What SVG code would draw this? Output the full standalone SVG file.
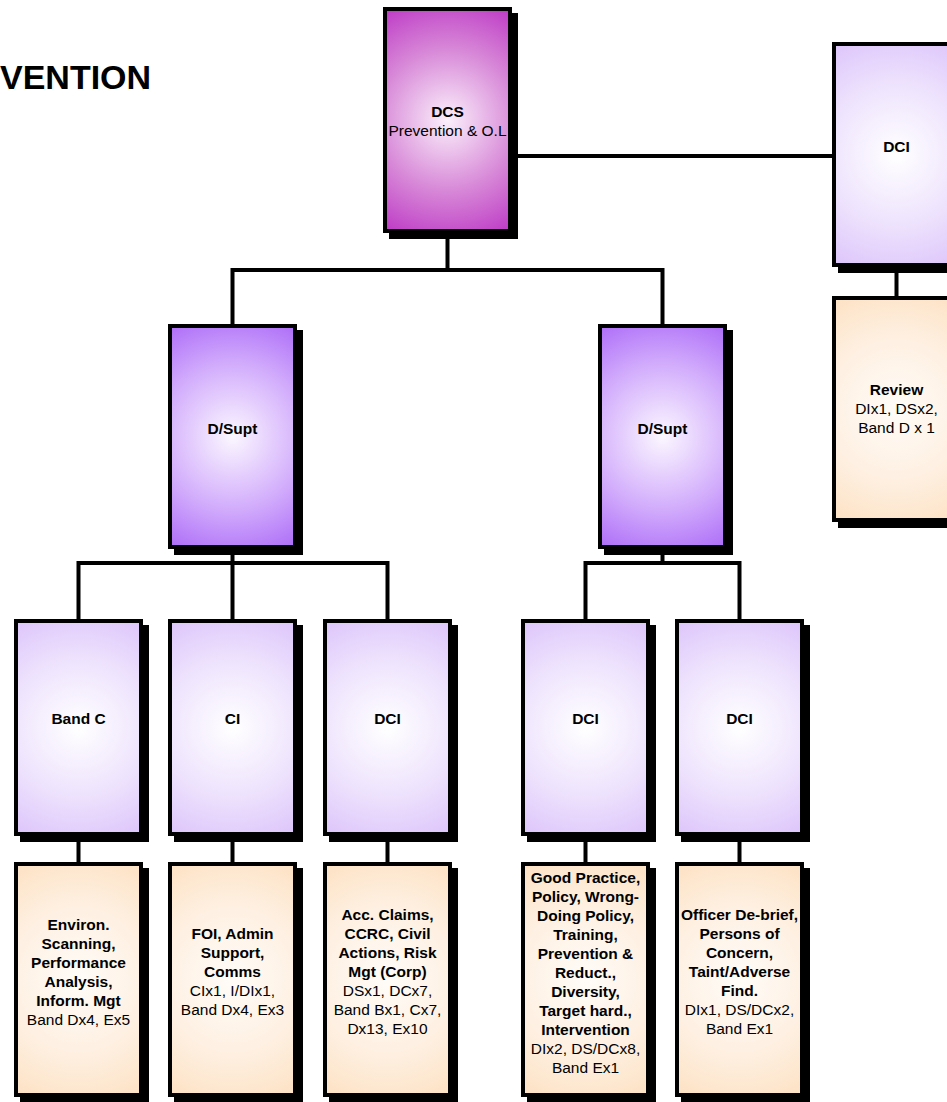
<svg xmlns="http://www.w3.org/2000/svg" width="947" height="1102" viewBox="0 0 947 1102">
<style>
text{font-family:"Liberation Sans",Arial,sans-serif;font-size:15.5px;fill:#000;text-anchor:middle}
.b{font-weight:bold}
.title{font-size:34px;font-weight:bold;text-anchor:start}
.box{stroke:#000;stroke-width:4}
.sh{fill:#000}
.con{fill:none;stroke:#000;stroke-width:4;stroke-linecap:square}
</style>
<defs>
<radialGradient id="gMag" cx="0.5" cy="0.5" r="1" gradientTransform="translate(0.5,0.5) scale(1,0.57) translate(-0.5,-0.5)">
<stop offset="0" stop-color="#FBF0FB"/><stop offset="0.55" stop-color="#D88AD8"/><stop offset="1" stop-color="#BE3CC6"/>
</radialGradient>
<radialGradient id="gDs" cx="0.5" cy="0.5" r="1" gradientTransform="translate(0.5,0.5) scale(1,0.57) translate(-0.5,-0.5)">
<stop offset="0" stop-color="#FBF7FF"/><stop offset="0.55" stop-color="#D4B0FC"/><stop offset="1" stop-color="#AE6EF8"/>
</radialGradient>
<radialGradient id="gLav" cx="0.5" cy="0.5" r="1" gradientTransform="translate(0.5,0.5) scale(1,0.57) translate(-0.5,-0.5)">
<stop offset="0" stop-color="#FFFFFF"/><stop offset="0.55" stop-color="#EEE3FD"/><stop offset="1" stop-color="#DDC5FB"/>
</radialGradient>
<radialGradient id="gOr" cx="0.5" cy="0.5" r="1" gradientTransform="translate(0.5,0.5) scale(1,0.57) translate(-0.5,-0.5)">
<stop offset="0" stop-color="#FFFCF8"/><stop offset="0.55" stop-color="#FEF0E2"/><stop offset="1" stop-color="#FDE2C4"/>
</radialGradient>
</defs>

<text class="title" x="0" y="89">VENTION</text>

<g id="connectors">
<path class="con" d="M447.5,233 V270 M232.5,270 H662.5 M232.5,270 V324 M662.5,270 V324"/>
<path class="con" d="M512,156 H832 M896.5,267 V296"/>
<path class="con" d="M232.5,549 V619 M78.5,563 H387.5 M78.5,563 V619 M387.5,563 V619"/>
<path class="con" d="M662.5,549 V563 M585.5,563 H739.5 M585.5,563 V619 M739.5,563 V619"/>
<path class="con" d="M78.5,836 V862 M232.5,836 V862 M387.5,836 V862 M585.5,836 V862 M739.5,836 V862"/>
</g>

<g id="dcs">
<rect class="sh" x="389" y="13" width="129" height="226"/>
<rect class="box" x="385" y="9" width="125" height="222" fill="url(#gMag)"/>
<text x="447.5" y="117"><tspan class="b">DCS</tspan><tspan x="447.5" dy="19">Prevention &amp; O.L</tspan></text>
</g>

<g id="dci-top">
<rect class="sh" x="838" y="48" width="129" height="225"/>
<rect class="box" x="834" y="44" width="125" height="221" fill="url(#gLav)"/>
<text class="b" x="896.5" y="152">DCI</text>
</g>

<g id="review">
<rect class="sh" x="838" y="302" width="129" height="226"/>
<rect class="box" x="834" y="298" width="125" height="222" fill="url(#gOr)"/>
<text x="896.5" y="395"><tspan class="b">Review</tspan><tspan x="896.5" dy="19">DIx1, DSx2,</tspan><tspan x="896.5" dy="19">Band D x 1</tspan></text>
</g>

<g id="dsupt-left">
<rect class="sh" x="174" y="330" width="129" height="225"/>
<rect class="box" x="170" y="326" width="125" height="221" fill="url(#gDs)"/>
<text class="b" x="232.5" y="434">D/Supt</text>
</g>

<g id="dsupt-right">
<rect class="sh" x="604" y="330" width="129" height="225"/>
<rect class="box" x="600" y="326" width="125" height="221" fill="url(#gDs)"/>
<text class="b" x="662.5" y="434">D/Supt</text>
</g>

<g id="bandc">
<rect class="sh" x="20" y="625" width="129" height="217"/>
<rect class="box" x="16" y="621" width="125" height="213" fill="url(#gLav)"/>
<text class="b" x="78.5" y="724">Band C</text>
</g>
<g id="ci">
<rect class="sh" x="174" y="625" width="129" height="217"/>
<rect class="box" x="170" y="621" width="125" height="213" fill="url(#gLav)"/>
<text class="b" x="232.5" y="724">CI</text>
</g>
<g id="dci-1">
<rect class="sh" x="329" y="625" width="129" height="217"/>
<rect class="box" x="325" y="621" width="125" height="213" fill="url(#gLav)"/>
<text class="b" x="387.5" y="724">DCI</text>
</g>
<g id="dci-2">
<rect class="sh" x="527" y="625" width="129" height="217"/>
<rect class="box" x="523" y="621" width="125" height="213" fill="url(#gLav)"/>
<text class="b" x="585.5" y="724">DCI</text>
</g>
<g id="dci-3">
<rect class="sh" x="681" y="625" width="129" height="217"/>
<rect class="box" x="677" y="621" width="125" height="213" fill="url(#gLav)"/>
<text class="b" x="739.5" y="724">DCI</text>
</g>

<g id="task-bandc">
<rect class="sh" x="20" y="868" width="129" height="235"/>
<rect class="box" x="16" y="864" width="125" height="231" fill="url(#gOr)"/>
<text x="78.5" y="929.5"><tspan class="b">Environ.</tspan><tspan class="b" x="78.5" dy="19">Scanning,</tspan><tspan class="b" x="78.5" dy="19">Performance</tspan><tspan class="b" x="78.5" dy="19">Analysis,</tspan><tspan class="b" x="78.5" dy="19">Inform. Mgt</tspan><tspan x="78.5" dy="19">Band Dx4, Ex5</tspan></text>
</g>
<g id="task-ci">
<rect class="sh" x="174" y="868" width="129" height="235"/>
<rect class="box" x="170" y="864" width="125" height="231" fill="url(#gOr)"/>
<text x="232.5" y="939"><tspan class="b">FOI, Admin</tspan><tspan class="b" x="232.5" dy="19">Support,</tspan><tspan class="b" x="232.5" dy="19">Comms</tspan><tspan x="232.5" dy="19">CIx1, I/DIx1,</tspan><tspan x="232.5" dy="19">Band Dx4, Ex3</tspan></text>
</g>
<g id="task-dci-1">
<rect class="sh" x="329" y="868" width="129" height="235"/>
<rect class="box" x="325" y="864" width="125" height="231" fill="url(#gOr)"/>
<text x="387.5" y="920"><tspan class="b">Acc. Claims,</tspan><tspan class="b" x="387.5" dy="19">CCRC, Civil</tspan><tspan class="b" x="387.5" dy="19">Actions, Risk</tspan><tspan class="b" x="387.5" dy="19">Mgt (Corp)</tspan><tspan x="387.5" dy="19">DSx1, DCx7,</tspan><tspan x="387.5" dy="19">Band Bx1, Cx7,</tspan><tspan x="387.5" dy="19">Dx13, Ex10</tspan></text>
</g>
<g id="task-dci-2">
<rect class="sh" x="527" y="868" width="129" height="235"/>
<rect class="box" x="523" y="864" width="125" height="231" fill="url(#gOr)"/>
<text x="585.5" y="883"><tspan class="b">Good Practice,</tspan><tspan class="b" x="585.5" dy="19">Policy, Wrong-</tspan><tspan class="b" x="585.5" dy="19">Doing Policy,</tspan><tspan class="b" x="585.5" dy="19">Training,</tspan><tspan class="b" x="585.5" dy="19">Prevention &amp;</tspan><tspan class="b" x="585.5" dy="19">Reduct.,</tspan><tspan class="b" x="585.5" dy="19">Diversity,</tspan><tspan class="b" x="585.5" dy="19">Target hard.,</tspan><tspan class="b" x="585.5" dy="19">Intervention</tspan><tspan x="585.5" dy="19">DIx2, DS/DCx8,</tspan><tspan x="585.5" dy="19">Band Ex1</tspan></text>
</g>
<g id="task-dci-3">
<rect class="sh" x="681" y="868" width="129" height="235"/>
<rect class="box" x="677" y="864" width="125" height="231" fill="url(#gOr)"/>
<text x="739.5" y="920"><tspan class="b">Officer De-brief,</tspan><tspan class="b" x="739.5" dy="19">Persons of</tspan><tspan class="b" x="739.5" dy="19">Concern,</tspan><tspan class="b" x="739.5" dy="19">Taint/Adverse</tspan><tspan class="b" x="739.5" dy="19">Find.</tspan><tspan x="739.5" dy="19">DIx1, DS/DCx2,</tspan><tspan x="739.5" dy="19">Band Ex1</tspan></text>
</g>
</svg>
